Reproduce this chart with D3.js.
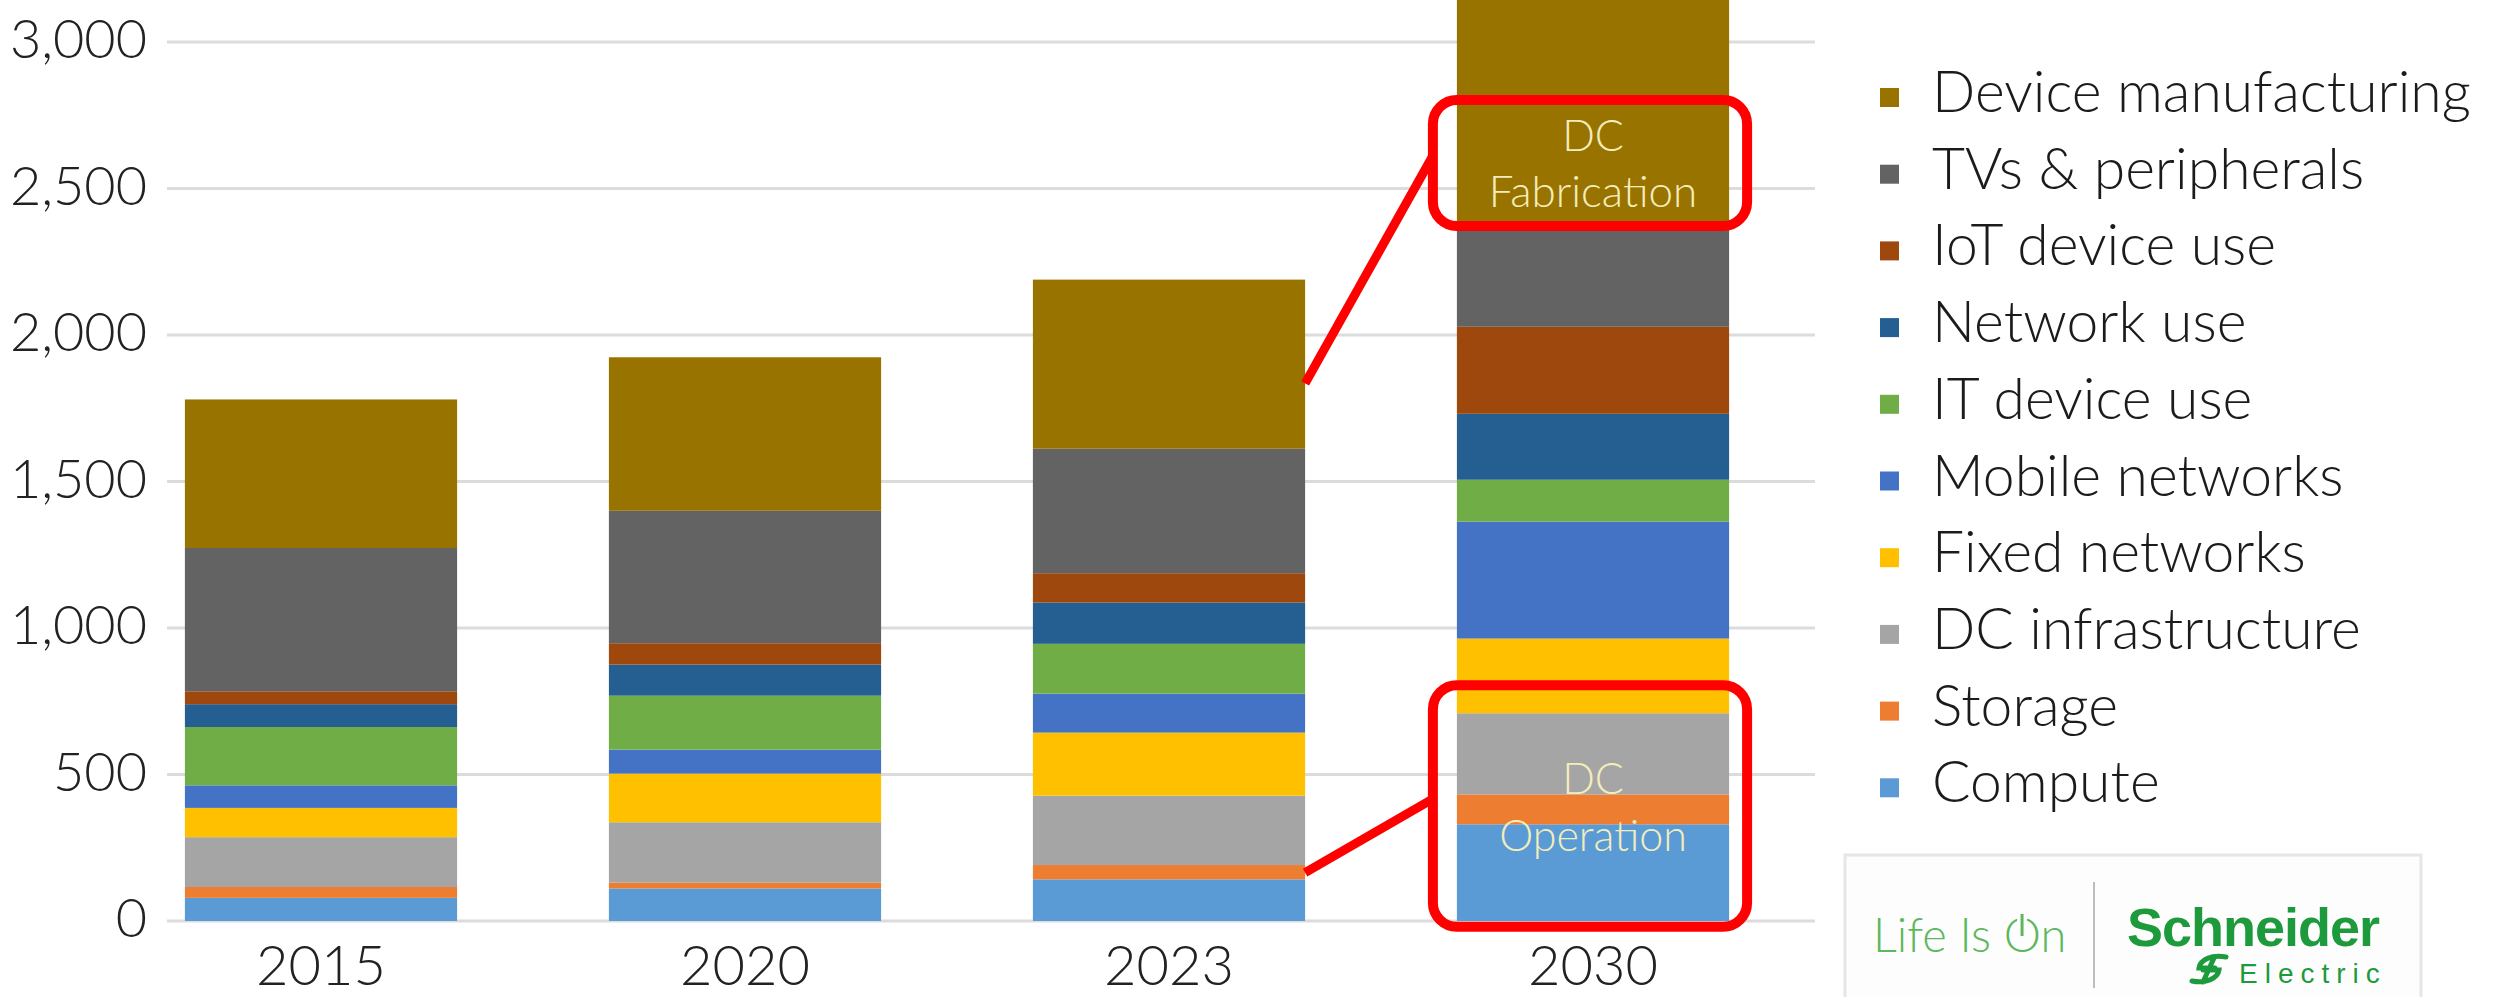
<!DOCTYPE html>
<html>
<head>
<meta charset="utf-8">
<script src="https://cdn.jsdelivr.net/npm/d3@7"></script>
<style>
  html, body { margin: 0; padding: 0; background: #ffffff; }
  svg { display: block; }
</style>
</head>
<body>
<svg id="chart" width="2498" height="997"></svg>
<script>
// Years on the category axis
const years = ["2015", "2020", "2023", "2030"];

// Stack order, bottom to top
const seriesNames = [
  "Compute", "Storage", "DC infrastructure", "Fixed networks", "Mobile networks",
  "IT device use", "Network use", "IoT device use", "TVs & peripherals", "Device manufacturing"
];

// Emissions per segment and year (MtCO2e)
const compute             = [79, 111, 142, 330];
const storage             = [37, 20, 49, 102];
const dcInfrastructure    = [170, 206, 237, 277];
const fixedNetworks       = [100, 166, 215, 255];
const mobileNetworks      = [77, 82, 133, 399];
const itDeviceUse         = [199, 184, 170, 143];
const networkUse          = [78, 106, 141, 225];
const iotDeviceUse        = [44, 73, 100, 297];
const tvsPeripherals      = [489, 452, 425, 348];
const deviceManufacturing = [507, 524, 577, 800];

const yTicks = [0, 500, 1000, 1500, 2000, 2500, 3000];

const seriesColors = [
  "#5B9BD5", "#ED7D31", "#A5A5A5", "#FFC000", "#4472C4",
  "#70AD47", "#255E91", "#9E480E", "#636363", "#997300"
];

const seriesValues = [
  compute, storage, dcInfrastructure, fixedNetworks, mobileNetworks,
  itDeviceUse, networkUse, iotDeviceUse, tvsPeripherals, deviceManufacturing
];

// Table for d3.stack: one row per year
const table = years.map((yr, i) => {
  const row = { year: yr };
  seriesNames.forEach((name, s) => { row[name] = seriesValues[s][i]; });
  return row;
});

const FONT = "Lato, 'Open Sans', 'Noto Sans', sans-serif";
const svg = d3.select("#chart");

const y = d3.scaleLinear().domain([0, 3000]).range([921, 42]);
const x = d3.scaleBand().domain(years).range([109, 1805])
  .paddingInner(0.358).paddingOuter(0.179);
const color = d3.scaleOrdinal().domain(seriesNames).range(seriesColors);

// Horizontal gridlines
svg.append("g").selectAll("line").data(yTicks).join("line")
  .attr("x1", 167).attr("x2", 1815)
  .attr("y1", d => y(d)).attr("y2", d => y(d))
  .attr("stroke", "#dcdcdc").attr("stroke-width", 3);

// Value axis labels
const yAxis = d3.axisLeft(y).tickValues(yTicks).tickFormat(d3.format(",")).tickSize(0).tickPadding(0);
const gy = svg.append("g").attr("transform", "translate(147,0)").call(yAxis);
gy.select(".domain").remove();
gy.selectAll("text")
  .attr("font-family", FONT).attr("font-weight", 300)
  .attr("font-size", 54).attr("fill", "#222222")
  .attr("dy", "0.42em").attr("x", 0).attr("y", -7);

// Stacked bars
const stacked = d3.stack().keys(seriesNames)(table);
svg.append("g").selectAll("g").data(stacked).join("g")
  .attr("fill", d => color(d.key))
  .selectAll("rect").data(d => d).join("rect")
  .attr("x", d => x(d.data.year))
  .attr("width", x.bandwidth())
  .attr("y", d => y(d[1]))
  .attr("height", d => y(d[0]) - y(d[1]));

// Category axis labels
const xAxis = d3.axisBottom(x).tickSize(0).tickPadding(0);
const gx = svg.append("g").attr("transform", "translate(0,985)").call(xAxis);
gx.select(".domain").remove();
gx.selectAll("text")
  .attr("font-family", FONT).attr("font-weight", 300)
  .attr("font-size", 56).attr("fill", "#222222")
  .attr("dy", 0).attr("y", 0);

// Legend, top entry first
const legendOrder = seriesNames.slice().reverse();
const legend = svg.append("g");
const rowStep = 76.7;
legendOrder.forEach((name, i) => {
  const cy = 91 + i * rowStep;
  legend.append("rect")
    .attr("x", 1880).attr("y", cy - 3).attr("width", 19).attr("height", 19)
    .attr("fill", color(name));
  legend.append("text")
    .attr("x", 1932).attr("y", cy + 21)
    .attr("font-family", FONT).attr("font-weight", 300).attr("font-size", 57)
    .attr("fill", "#1b1b1b").text(name);
});

// Callouts on the 2030 bar
const bx = x("2030"), bw = x.bandwidth();
const boxX = bx - 24, boxW = bw + 42;
const red = "#ff0000";
const ann = svg.append("g");

// Connectors from the 2023 bar to the callout boxes
const x23 = x("2023") + x.bandwidth();
ann.append("line").attr("x1", x23).attr("y1", y(1835)).attr("x2", boxX).attr("y2", y(2612))
  .attr("stroke", red).attr("stroke-width", 9);
ann.append("line").attr("x1", x23).attr("y1", y(165)).attr("x2", boxX).attr("y2", y(417))
  .attr("stroke", red).attr("stroke-width", 9);

ann.append("rect").attr("x", boxX).attr("y", y(2802)).attr("width", boxW)
  .attr("height", y(2372) - y(2802)).attr("rx", 24)
  .attr("fill", "none").attr("stroke", red).attr("stroke-width", 10);
ann.append("rect").attr("x", boxX).attr("y", y(805)).attr("width", boxW)
  .attr("height", y(-20) - y(805)).attr("rx", 24)
  .attr("fill", "none").attr("stroke", red).attr("stroke-width", 10);

const cx30 = bx + bw / 2;
const labelColor = "#f3edbb";
[["DC", 151, 43], ["Fabrication", 207, 44], ["DC", 794, 43], ["Operation", 851, 43]].forEach(([t, by, fs]) => {
  ann.append("text").attr("x", cx30).attr("y", by).attr("text-anchor", "middle")
    .attr("font-family", FONT).attr("font-weight", 300).attr("font-size", fs)
    .attr("fill", labelColor).text(t);
});

// Brand panel
const brand = svg.append("g");
brand.append("rect").attr("x", 1845).attr("y", 855).attr("width", 576).attr("height", 160)
  .attr("fill", "#fdfdfd").attr("stroke", "#e6e6e6").attr("stroke-width", 3);
const lifeText = brand.append("text").attr("x", 1873).attr("y", 952)
  .attr("font-family", FONT).attr("font-weight", 300).attr("font-size", 47)
  .attr("fill", "#5cb85c").text("Life Is On");
// power-button mark on the "O"
const oBox = lifeText.node().getExtentOfChar(8);
const ocx = oBox.x + oBox.width / 2;
brand.append("rect").attr("x", ocx - 5).attr("y", oBox.y + 8).attr("width", 10).attr("height", 12)
  .attr("fill", "#fdfdfd");
brand.append("line").attr("x1", ocx).attr("x2", ocx).attr("y1", oBox.y + 8).attr("y2", oBox.y + 30)
  .attr("stroke", "#5cb85c").attr("stroke-width", 3);

brand.append("line").attr("x1", 2094).attr("x2", 2094).attr("y1", 882).attr("y2", 988)
  .attr("stroke", "#bdbdbd").attr("stroke-width", 2);
brand.append("text").attr("x", 2127).attr("y", 946)
  .attr("font-family", "'Liberation Sans', Arial, sans-serif").attr("font-weight", 700)
  .attr("font-size", 54).attr("letter-spacing", -1).attr("fill", "#1d9a3c").text("Schneider");
brand.append("text").attr("x", 2239).attr("y", 983)
  .attr("font-family", "'Liberation Sans', Arial, sans-serif").attr("font-weight", 400)
  .attr("font-size", 28).attr("letter-spacing", 7).attr("fill", "#1d9a3c").text("Electric");
// company symbol
brand.append("path")
  .attr("d", "M2226,957 C2212,954 2200,960 2199,968 L2215,968 M2192,981 C2206,984 2218,978 2219,970 L2203,970 M2214,958 L2203,982")
  .attr("fill", "none").attr("stroke", "#1d9a3c").attr("stroke-width", 5).attr("stroke-linecap", "round");
</script>
</body>
</html>
